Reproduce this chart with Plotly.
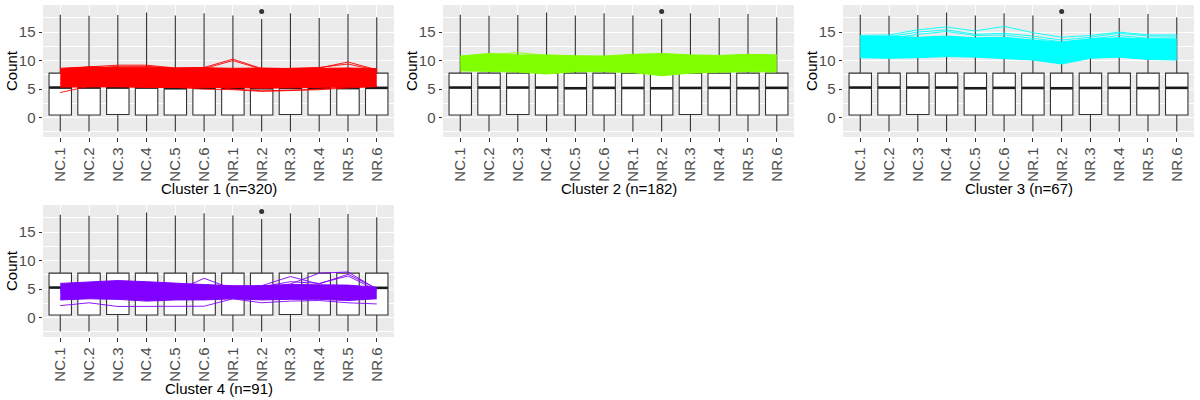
import plotly.graph_objects as go

samples = ["NC.1", "NC.2", "NC.3", "NC.4", "NC.5", "NC.6",
           "NR.1", "NR.2", "NR.3", "NR.4", "NR.5", "NR.6"]

# Box statistics (same for every cluster panel: all genes)
box_q1 = [0.47, 0.47, 0.55, 0.47, 0.47, 0.47, 0.47, 0.47, 0.55, 0.47, 0.47, 0.47]
box_median = [5.27, 5.27, 5.27, 5.27, 5.15, 5.22, 5.2, 5.15, 5.2, 5.22, 5.18, 5.22]
box_q3 = [7.8, 7.8, 7.8, 7.8, 7.8, 7.8, 7.8, 7.8, 7.8, 7.8, 7.8, 7.8]
box_low = [-2.45] * 12
box_high = [18.04, 17.86, 18.0, 18.45, 17.9, 18.3, 17.9, 17.3, 18.3, 17.45, 18.15, 17.6]
outlier_x = ["NR.2"]
outlier_y = [18.6]

cluster_titles = ["Cluster 1 (n=320)", "Cluster 2 (n=182)", "Cluster 3 (n=67)", "Cluster 4 (n=91)"]
cluster_colors = ["#FF0000", "#80FF00", "#00FFFF", "#8000FF"]

# Dense envelope of each cluster's profiles (lower / upper)
c1_lower = [5.35, 5.4, 5.4, 5.3, 5.3, 5.2, 5.3, 5.15, 5.2, 5.3, 5.3, 5.45]
c1_upper = [8.65, 8.9, 8.8, 8.85, 8.7, 8.75, 8.65, 8.7, 8.6, 8.65, 8.7, 8.6]
c1_lines = [
    [4.4, 5.5, 5.5, 5.4, 5.3, 5.0, 4.9, 4.6, 4.7, 4.9, 5.2, 5.45],
    [8.3, 8.9, 9.2, 9.2, 8.7, 8.8, 10.25, 8.6, 8.5, 8.7, 9.75, 8.4],
    [8.1, 8.6, 9.0, 9.0, 8.6, 8.6, 10.0, 8.5, 8.6, 8.8, 9.4, 8.3],
    [6.0, 6.1, 6.0, 5.9, 5.8, 5.6, 5.0, 4.7, 4.8, 5.0, 5.4, 5.6],
]

c2_lower = [8.2, 8.1, 8.0, 7.65, 8.05, 8.05, 7.9, 7.35, 7.8, 7.95, 8.05, 8.0]
c2_upper = [10.8, 11.25, 11.0, 11.0, 10.85, 10.8, 11.1, 11.25, 11.0, 10.9, 11.1, 11.0]
c2_lines = [
    [10.6, 11.0, 11.4, 10.9, 10.7, 10.6, 10.9, 11.1, 10.9, 10.8, 11.0, 10.9],
]

c3_lower = [10.5, 10.4, 10.5, 10.7, 10.6, 10.4, 10.1, 9.4, 10.4, 10.6, 10.2, 10.1]
c3_upper = [14.2, 14.3, 14.1, 14.3, 14.0, 14.1, 13.6, 13.2, 13.8, 14.0, 13.8, 13.8]
c3_lines = [
    [14.4, 14.5, 15.4, 15.9, 15.2, 16.0, 14.9, 14.1, 14.4, 15.0, 14.5, 14.5],
    [14.3, 14.2, 15.0, 15.4, 14.6, 14.8, 14.3, 13.6, 14.1, 14.8, 14.3, 14.3],
    [14.0, 13.9, 14.6, 15.1, 14.4, 14.5, 13.9, 13.3, 13.8, 14.4, 13.9, 14.0],
    [13.2, 13.0, 13.3, 13.0, 12.8, 12.9, 12.7, 12.3, 12.8, 12.9, 12.6, 12.7],
    [11.8, 11.6, 11.9, 12.1, 11.8, 11.7, 11.4, 10.9, 11.6, 11.9, 11.5, 11.4],
    [12.6, 12.3, 12.5, 12.8, 12.4, 12.5, 12.1, 11.8, 12.3, 12.5, 12.2, 12.3],
]

c4_lower = [3.1, 3.3, 3.2, 2.9, 3.1, 3.1, 3.3, 3.1, 3.2, 3.2, 3.0, 3.3]
c4_upper = [6.0, 6.3, 6.5, 6.3, 6.0, 5.8, 5.6, 5.6, 5.8, 5.8, 5.7, 5.3]
c4_lines = [
    [2.1, 2.6, 1.95, 1.95, 2.0, 2.0, 3.3, 2.6, 2.9, 3.0, 2.6, 2.4],
    [4.5, 4.7, 4.8, 4.6, 4.5, 4.6, 4.7, 5.2, 5.9, 7.8, 8.0, 5.0],
    [4.8, 4.9, 5.0, 4.8, 4.6, 6.9, 5.0, 5.6, 7.2, 5.9, 7.6, 5.1],
    [5.0, 5.0, 5.1, 5.0, 4.9, 5.1, 5.0, 5.4, 6.3, 6.0, 7.3, 4.8],
]

lowers = [c1_lower, c2_lower, c3_lower, c4_lower]
uppers = [c1_upper, c2_upper, c3_upper, c4_upper]
extra = [c1_lines, c2_lines, c3_lines, c4_lines]

W, H = 1200, 400
# panel pixel boxes (left, right, top, bottom)
panels = [(43, 394, 5, 137), (443, 794, 5, 137), (843, 1194, 5, 137), (43, 394, 205, 337)]

FONT = "Liberation Sans, Arial, Helvetica, sans-serif"
TS = 15
fig = go.Figure()
layout = dict(width=W, height=H, margin=dict(l=0, r=0, t=0, b=0),
              paper_bgcolor="white", plot_bgcolor="#EBEBEB", showlegend=False,
              font=dict(family=FONT, size=TS, color="#4D4D4D"))
annotations = []

for i, (l, r, t, b) in enumerate(panels):
    k = "" if i == 0 else str(i + 1)
    xa, ya = "x" + k, "y" + k
    # boxes
    fig.add_trace(go.Box(x=samples, q1=box_q1, median=box_median, q3=box_q3,
                         lowerfence=box_low, upperfence=box_high,
                         boxpoints=False, whiskerwidth=0, width=0.78,
                         fillcolor="white", line=dict(color="#333333", width=1.1),
                         xaxis=xa, yaxis=ya, hoverinfo="skip"))
    # thick median
    fig.add_trace(go.Scatter(x=samples, y=box_median, mode="markers",
                             marker=dict(symbol="line-ew", size=15.8,
                                         line=dict(color="#1a1a1a", width=2.6)),
                             xaxis=xa, yaxis=ya, hoverinfo="skip"))
    col = cluster_colors[i]
    # dense band of profiles
    fig.add_trace(go.Scatter(x=samples, y=lowers[i], mode="lines",
                             line=dict(color=col, width=1),
                             xaxis=xa, yaxis=ya, hoverinfo="skip"))
    fig.add_trace(go.Scatter(x=samples, y=uppers[i], mode="lines", fill="tonexty",
                             fillcolor=col, line=dict(color=col, width=1),
                             xaxis=xa, yaxis=ya, hoverinfo="skip"))
    for ln in extra[i]:
        fig.add_trace(go.Scatter(x=samples, y=ln, mode="lines",
                                 line=dict(color=col, width=0.9),
                                 xaxis=xa, yaxis=ya, hoverinfo="skip"))
    # outlier
    fig.add_trace(go.Scatter(x=outlier_x, y=outlier_y, mode="markers",
                             marker=dict(color="#333333", size=5),
                             xaxis=xa, yaxis=ya, hoverinfo="skip"))

    layout["xaxis" + k] = dict(domain=[l / W, r / W], anchor=ya,
                               type="category", categoryorder="array", categoryarray=samples,
                               range=[-0.6, 11.6], showgrid=True, gridcolor="white", gridwidth=1.3,
                               zeroline=False, showline=False, ticks="outside", ticklen=3.5,
                               tickwidth=1.1, tickcolor="#333333", tickangle=-90,
                               tickfont=dict(family=FONT, size=TS, color="#4D4D4D"))
    layout["yaxis" + k] = dict(domain=[1 - b / H, 1 - t / H], anchor=xa,
                               range=[-3.4, 19.75], tickvals=[0, 5, 10, 15],
                               showgrid=True, gridcolor="white", gridwidth=1.3,
                               minor=dict(dtick=2.5, tick0=0, showgrid=True,
                                          gridcolor="white", gridwidth=0.6),
                               zeroline=False, showline=False, ticks="outside", ticklen=3.5,
                               tickwidth=1.1, tickcolor="#333333",
                               tickfont=dict(family=FONT, size=TS, color="#4D4D4D"))
    annotations.append(dict(text=cluster_titles[i], xref="paper", yref="paper",
                            x=(l + r) / 2 / W, y=1 - (b + 51.5) / H,
                            xanchor="center", yanchor="middle", showarrow=False,
                            font=dict(family=FONT, size=TS, color="black")))
    annotations.append(dict(text="Count", xref="paper", yref="paper",
                            x=(l - 32) / W, y=1 - (t + b) / 2 / H, textangle=-90,
                            xanchor="center", yanchor="middle", showarrow=False,
                            font=dict(family=FONT, size=TS, color="black")))

layout["annotations"] = annotations
fig.update_layout(**layout)
fig.write_html("out.html")
